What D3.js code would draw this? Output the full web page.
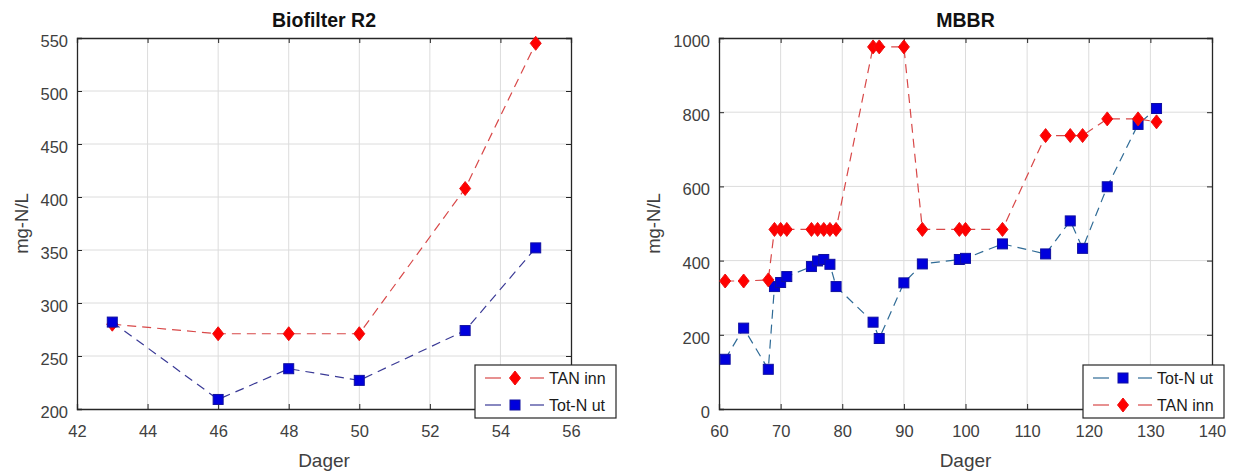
<!DOCTYPE html>
<html><head><meta charset="utf-8">
<script src="https://cdn.jsdelivr.net/npm/d3@7"></script>
<style>body{margin:0;background:#fff;}svg{display:block;font-family:"Liberation Sans",Arial,sans-serif;}</style>
</head><body><svg id="c" width="1234" height="473"></svg>
<script>
// ---- Data ----
const r2Days = [43, 46, 48, 50, 53, 55];
const r2TanInn = [280, 271, 271, 271, 408, 545];
const r2TotNUt = [282, 209, 238, 227, 274, 352];

const mbbrTanDays = [61, 64, 68, 69, 70, 71, 75, 76, 77, 78, 79, 85, 86, 90, 93, 99, 100, 106, 113, 117, 119, 123, 128, 131];
const mbbrTanInn  = [345, 345, 348, 484, 484, 484, 484, 484, 484, 484, 484, 976, 976, 976, 484, 484, 484, 484, 737, 737, 737, 782, 782, 774];
const mbbrTotDays = [61, 64, 68, 69, 70, 71, 75, 76, 77, 78, 79, 85, 86, 90, 93, 99, 100, 106, 113, 117, 119, 123, 128, 131];
const mbbrTotNUt  = [134, 218, 107, 330, 341, 357, 384, 399, 403, 390, 330, 234, 190, 340, 391, 403, 406, 445, 418, 507, 433, 599, 767, 810];

const r2XTicks = [42, 44, 46, 48, 50, 52, 54, 56];
const r2YTicks = [200, 250, 300, 350, 400, 450, 500, 550];
const mbbrXTicks = [60, 70, 80, 90, 100, 110, 120, 130, 140];
const mbbrYTicks = [0, 200, 400, 600, 800, 1000];

const svg = d3.select("#c");

function panel(opt) {
  const g = svg.append("g");
  const x = d3.scaleLinear().domain(opt.xDomain).range([opt.left, opt.right]);
  const y = d3.scaleLinear().domain(opt.yDomain).range([opt.bottom, opt.top]);
  // grid
  g.append("g").selectAll("line").data(opt.xTicks.slice(1, -1)).join("line")
    .attr("x1", d => x(d)).attr("x2", d => x(d)).attr("y1", opt.top).attr("y2", opt.bottom)
    .attr("stroke", "#dcdcdc").attr("stroke-width", 1);
  g.append("g").selectAll("line").data(opt.yTicks.slice(1, -1)).join("line")
    .attr("y1", d => y(d)).attr("y2", d => y(d)).attr("x1", opt.left).attr("x2", opt.right)
    .attr("stroke", "#dcdcdc").attr("stroke-width", 1);
  // axes
  const ax = d3.axisBottom(x).tickValues(opt.xTicks).tickSize(-5).tickPadding(16).tickFormat(d3.format("d"));
  const ay = d3.axisLeft(y).tickValues(opt.yTicks).tickSize(-5).tickPadding(9).tickFormat(d3.format("d"));
  const axT = d3.axisTop(x).tickValues(opt.xTicks).tickSize(-5).tickFormat("");
  const ayR = d3.axisRight(y).tickValues(opt.yTicks).tickSize(-5).tickFormat("");
  const style = (s, col) => {
    s.select(".domain").attr("stroke", col).attr("stroke-width", 1.3);
    s.selectAll(".tick line").attr("stroke", col);
    s.selectAll(".tick text").attr("fill", "#404040").style("font-size", "16.5px").style("font-family", "Liberation Sans, Arial, sans-serif");
  };
  g.append("g").attr("transform", `translate(0,${opt.bottom})`).call(ax).call(s => style(s, "#262626"));
  g.append("g").attr("transform", `translate(${opt.left},0)`).call(ay).call(s => style(s, "#262626"))
    .call(s => s.selectAll(".tick text").attr("dy", "0.5em"));
  g.append("g").attr("transform", `translate(0,${opt.top})`).call(axT).call(s => style(s, "#262626"));
  g.append("g").attr("transform", `translate(${opt.right},0)`).call(ayR).call(s => style(s, "#262626"));
  // title & labels
  g.append("text").attr("x", (opt.left + opt.right) / 2).attr("y", 27).attr("text-anchor", "middle")
    .attr("font-weight", "bold").attr("font-size", 19.5).attr("fill", "#111").text(opt.title);
  g.append("text").attr("x", (opt.left + opt.right) / 2).attr("y", 467).attr("text-anchor", "middle")
    .attr("font-size", 19).attr("fill", "#404040").text("Dager");
  g.append("text").attr("transform", `translate(${opt.ylabX},${(opt.top + opt.bottom) / 2}) rotate(-90)`)
    .attr("text-anchor", "middle").attr("font-size", 18.5).attr("fill", "#404040").text("mg-N/L");

  const line = d3.line().x(d => x(d[0])).y(d => y(d[1]));
  opt.series.forEach(s => {
    const pts = s.xs.map((d, i) => [d, s.ys[i]]);
    g.append("path").datum(pts).attr("d", line).attr("fill", "none")
      .attr("stroke", s.lineColor).attr("stroke-width", 1.2).attr("stroke-dasharray", "9,6");
    drawMarkers(g, pts.map(p => [x(p[0]), y(p[1])]), s.marker);
  });
  // legend
  const L = opt.legend;
  const lg = g.append("g");
  lg.append("rect").attr("x", L.x).attr("y", L.y).attr("width", L.w).attr("height", L.h)
    .attr("fill", "#fff").attr("stroke", "#262626").attr("stroke-width", 1.2);
  L.items.forEach((s, i) => {
    const cy = L.y + 13 + i * (L.h - 26);
    [[10, 26], [55, 69]].forEach(seg => {
      lg.append("line").attr("x1", L.x + seg[0]).attr("x2", L.x + seg[1]).attr("y1", cy).attr("y2", cy)
        .attr("stroke", s.lineColor).attr("stroke-width", 1.2);
    });
    drawMarkers(lg, [[L.x + 40, cy]], s.marker);
    lg.append("text").attr("x", L.x + 74).attr("y", cy + 6).attr("font-size", 16).attr("fill", "#1a1a1a").text(s.name);
  });
}

function drawMarkers(g, pts, type) {
  if (type === "diamond") {
    g.append("g").selectAll("path").data(pts).join("path")
      .attr("d", d => `M${d[0]},${d[1] - 7}L${d[0] + 5.5},${d[1]}L${d[0]},${d[1] + 7}L${d[0] - 5.5},${d[1]}Z`)
      .attr("fill", "#ff0000").attr("stroke", "#ee1010").attr("stroke-width", 1);
  } else {
    g.append("g").selectAll("rect").data(pts).join("rect")
      .attr("x", d => d[0] - 5).attr("y", d => d[1] - 5).attr("width", 10).attr("height", 10)
      .attr("fill", "#0000dd").attr("stroke", "#1010a0").attr("stroke-width", 1);
  }
}

const r2Tan = {name: "TAN inn", xs: r2Days, ys: r2TanInn, lineColor: "#d84848", marker: "diamond"};
const r2Tot = {name: "Tot-N ut", xs: r2Days, ys: r2TotNUt, lineColor: "#3a3a96", marker: "square"};
panel({
  title: "Biofilter R2", left: 77, right: 571, top: 38, bottom: 409, ylabX: 28,
  xDomain: [42, 56], yDomain: [200, 550], xTicks: r2XTicks, yTicks: r2YTicks,
  series: [r2Tan, r2Tot],
  legend: {x: 475, y: 365, w: 141, h: 53, items: [r2Tan, r2Tot]}
});

const mTot = {name: "Tot-N ut", xs: mbbrTotDays, ys: mbbrTotNUt, lineColor: "#2f6b96", marker: "square"};
const mTan = {name: "TAN inn", xs: mbbrTanDays, ys: mbbrTanInn, lineColor: "#d84848", marker: "diamond"};
panel({
  title: "MBBR", left: 719, right: 1212, top: 38, bottom: 409, ylabX: 660,
  xDomain: [60, 140], yDomain: [0, 1000], xTicks: mbbrXTicks, yTicks: mbbrYTicks,
  series: [mTot, mTan],
  legend: {x: 1083, y: 365, w: 141, h: 53, items: [mTot, mTan]}
});
</script></body></html>
